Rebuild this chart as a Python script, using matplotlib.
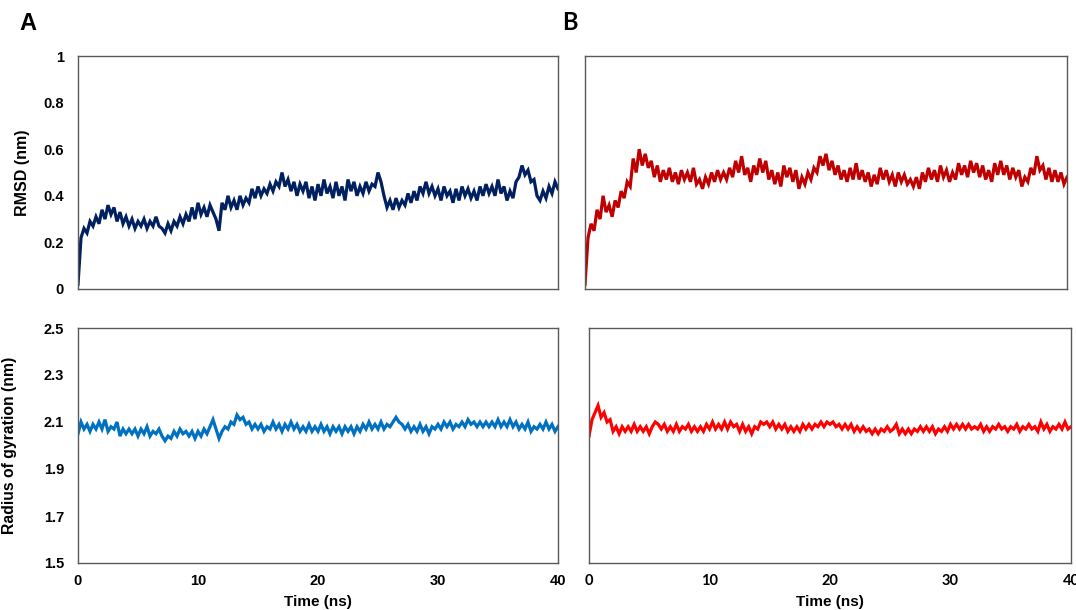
import numpy as np
import matplotlib
matplotlib.use("Agg")
from matplotlib import pyplot as plt

# values, one every 0.25 ns (0 .. 40 ns)
rmsd_a = [
    0.02, 0.22, 0.26, 0.24, 0.29, 0.27, 0.31, 0.28,
    0.34, 0.30, 0.36, 0.32, 0.35, 0.29, 0.33, 0.28,
    0.31, 0.27, 0.30, 0.26, 0.29, 0.27, 0.30, 0.26,
    0.29, 0.27, 0.31, 0.27, 0.26, 0.24, 0.28, 0.25,
    0.29, 0.27, 0.31, 0.28, 0.32, 0.29, 0.35, 0.30,
    0.37, 0.32, 0.35, 0.31, 0.36, 0.33, 0.30, 0.25,
    0.37, 0.34, 0.40, 0.35, 0.38, 0.34, 0.40, 0.36,
    0.39, 0.37, 0.43, 0.39, 0.44, 0.40, 0.43, 0.41,
    0.45, 0.42, 0.46, 0.44, 0.50, 0.44, 0.47, 0.42,
    0.46, 0.40, 0.45, 0.42, 0.46, 0.39, 0.44, 0.38,
    0.45, 0.40, 0.47, 0.41, 0.44, 0.39, 0.46, 0.40,
    0.44, 0.38, 0.47, 0.42, 0.46, 0.40, 0.44, 0.41,
    0.46, 0.42, 0.45, 0.44, 0.50, 0.46, 0.40, 0.35,
    0.38, 0.34, 0.39, 0.35, 0.38, 0.36, 0.41, 0.37,
    0.42, 0.38, 0.44, 0.41, 0.46, 0.41, 0.44, 0.40,
    0.43, 0.38, 0.44, 0.40, 0.42, 0.37, 0.43, 0.38,
    0.44, 0.40, 0.43, 0.39, 0.42, 0.38, 0.44, 0.40,
    0.45, 0.41, 0.44, 0.40, 0.47, 0.41, 0.44, 0.38,
    0.42, 0.39, 0.46, 0.48, 0.53, 0.49, 0.51, 0.46,
    0.47, 0.40, 0.38, 0.42, 0.39, 0.44, 0.41, 0.46,
    0.43,
]

rmsd_b = [
    0.02, 0.22, 0.28, 0.25, 0.34, 0.30, 0.40, 0.33,
    0.36, 0.31, 0.38, 0.35, 0.42, 0.39, 0.46, 0.44,
    0.56, 0.50, 0.60, 0.53, 0.58, 0.52, 0.55, 0.48,
    0.53, 0.46, 0.51, 0.47, 0.52, 0.46, 0.50, 0.45,
    0.51, 0.47, 0.50, 0.46, 0.52, 0.45, 0.47, 0.43,
    0.48, 0.45, 0.50, 0.46, 0.51, 0.47, 0.50, 0.47,
    0.52, 0.48, 0.55, 0.50, 0.57, 0.49, 0.52, 0.46,
    0.53, 0.49, 0.56, 0.50, 0.55, 0.47, 0.51, 0.45,
    0.50, 0.44, 0.53, 0.48, 0.52, 0.46, 0.51, 0.43,
    0.48, 0.45, 0.50, 0.47, 0.52, 0.50, 0.57, 0.53,
    0.58, 0.51, 0.55, 0.49, 0.53, 0.47, 0.51, 0.46,
    0.52, 0.47, 0.54, 0.47, 0.51, 0.46, 0.50, 0.44,
    0.49, 0.45, 0.52, 0.47, 0.51, 0.46, 0.49, 0.44,
    0.50, 0.46, 0.49, 0.45, 0.47, 0.44, 0.48, 0.43,
    0.50, 0.46, 0.52, 0.47, 0.51, 0.46, 0.53, 0.48,
    0.51, 0.46, 0.50, 0.47, 0.54, 0.49, 0.53, 0.48,
    0.55, 0.50, 0.54, 0.48, 0.53, 0.47, 0.51, 0.46,
    0.54, 0.49, 0.55, 0.49, 0.53, 0.47, 0.52, 0.48,
    0.51, 0.44, 0.48, 0.46, 0.52, 0.49, 0.57, 0.51,
    0.53, 0.47, 0.52, 0.46, 0.51, 0.46, 0.50, 0.45,
    0.48,
]

rg_a = [
    2.05, 2.10, 2.07, 2.09, 2.06, 2.09, 2.07, 2.10,
    2.07, 2.11, 2.06, 2.08, 2.07, 2.10, 2.04, 2.07,
    2.05, 2.07, 2.05, 2.07, 2.04, 2.07, 2.05, 2.08,
    2.04, 2.06, 2.05, 2.07, 2.04, 2.02, 2.04, 2.03,
    2.06, 2.04, 2.07, 2.05, 2.06, 2.04, 2.06, 2.03,
    2.06, 2.04, 2.07, 2.05, 2.08, 2.11, 2.07, 2.03,
    2.06, 2.08, 2.07, 2.10, 2.09, 2.13, 2.11, 2.12,
    2.09, 2.10, 2.07, 2.09, 2.07, 2.09, 2.06, 2.08,
    2.07, 2.10, 2.07, 2.09, 2.06, 2.09, 2.07, 2.10,
    2.07, 2.09, 2.06, 2.08, 2.06, 2.09, 2.06, 2.08,
    2.06, 2.09, 2.06, 2.08, 2.05, 2.08, 2.06, 2.08,
    2.05, 2.08, 2.06, 2.08, 2.05, 2.08, 2.06, 2.09,
    2.07, 2.10, 2.07, 2.09, 2.07, 2.10, 2.07, 2.09,
    2.08, 2.10, 2.12, 2.10, 2.09, 2.07, 2.09, 2.06,
    2.08, 2.06, 2.09, 2.06, 2.08, 2.05, 2.08, 2.07,
    2.09, 2.07, 2.10, 2.08, 2.10, 2.07, 2.09, 2.08,
    2.10, 2.08, 2.11, 2.09, 2.10, 2.08, 2.10, 2.08,
    2.10, 2.08, 2.10, 2.08, 2.11, 2.08, 2.10, 2.08,
    2.11, 2.08, 2.10, 2.07, 2.09, 2.07, 2.10, 2.06,
    2.08, 2.07, 2.09, 2.07, 2.10, 2.07, 2.09, 2.06,
    2.08,
]

rg_b = [
    2.04, 2.11, 2.14, 2.17, 2.12, 2.14, 2.10, 2.11,
    2.06, 2.08, 2.05, 2.08, 2.06, 2.08, 2.06, 2.09,
    2.06, 2.08, 2.06, 2.08, 2.05, 2.08, 2.10, 2.09,
    2.07, 2.09, 2.06, 2.08, 2.06, 2.09, 2.06, 2.08,
    2.07, 2.09, 2.06, 2.08, 2.06, 2.08, 2.06, 2.09,
    2.07, 2.10, 2.07, 2.09, 2.07, 2.10, 2.07, 2.10,
    2.08, 2.09, 2.06, 2.09, 2.06, 2.08, 2.05, 2.08,
    2.07, 2.10, 2.09, 2.10, 2.08, 2.10, 2.07, 2.09,
    2.07, 2.09, 2.06, 2.08, 2.06, 2.08, 2.06, 2.09,
    2.07, 2.09, 2.07, 2.09, 2.08, 2.10, 2.08, 2.10,
    2.09, 2.10, 2.08, 2.09, 2.07, 2.09, 2.07, 2.09,
    2.06, 2.08, 2.06, 2.08, 2.06, 2.07, 2.05, 2.07,
    2.05, 2.07, 2.06, 2.08, 2.06, 2.07, 2.09, 2.05,
    2.07, 2.05, 2.07, 2.05, 2.07, 2.06, 2.08, 2.06,
    2.08, 2.06, 2.08, 2.05, 2.07, 2.06, 2.08, 2.06,
    2.09, 2.07, 2.09, 2.07, 2.09, 2.07, 2.09, 2.07,
    2.08, 2.07, 2.09, 2.06, 2.08, 2.06, 2.08, 2.07,
    2.09, 2.07, 2.08, 2.06, 2.08, 2.07, 2.09, 2.06,
    2.08, 2.07, 2.09, 2.07, 2.08, 2.06, 2.10, 2.07,
    2.09, 2.06, 2.08, 2.07, 2.09, 2.07, 2.10, 2.07,
    2.08,
]

step = 0.25
x_ticks = [0, 10, 20, 30, 40]
rmsd_ticks = [0, 0.2, 0.4, 0.6, 0.8, 1]
rmsd_labels = ["0", "0.2", "0.4", "0.6", "0.8", "1"]
rg_ticks = [1.5, 1.7, 1.9, 2.1, 2.3, 2.5]

plt.rcParams['font.family'] = ['Liberation Sans', 'DejaVu Sans']

fig = plt.figure(figsize=(10.76, 6.10), dpi=100)
W, H = 1076.0, 610.0


def box(l, t, r, b):
    return [l / W, 1 - b / H, (r - l) / W, (b - t) / H]


ax_a1 = fig.add_axes(box(78, 56, 558, 289))
ax_a2 = fig.add_axes(box(78, 328, 558, 563))
ax_b1 = fig.add_axes(box(585, 56, 1067, 289))
ax_b2 = fig.add_axes(box(589, 328, 1071, 563))

series = [
    (ax_a1, rmsd_a, '#002060'),
    (ax_a2, rg_a, '#0070C0'),
    (ax_b1, rmsd_b, '#C00000'),
    (ax_b2, rg_b, '#FF0000'),
]

for ax, vals, col in series:
    t = np.arange(len(vals)) * step
    ax.plot(t, vals, color=col, lw=2.3, solid_joinstyle='miter')
    ax.set_xlim(0, 40)
    ax.set_xticks(x_ticks)
    ax.tick_params(length=0)
    for sp in ax.spines.values():
        sp.set_color('#595959')
        sp.set_linewidth(1.0)

for ax in (ax_a1, ax_b1):
    ax.set_ylim(0, 1)
    ax.set_yticks(rmsd_ticks)
    ax.set_xticklabels([])
for ax in (ax_a2, ax_b2):
    ax.set_ylim(1.5, 2.5)
    ax.set_yticks(rg_ticks)

ax_a1.set_yticklabels(rmsd_labels, fontsize=10.5, fontweight='bold')
ax_a1.tick_params(axis='y', pad=10)
ax_a2.set_yticklabels([f"{v:.1f}" for v in rg_ticks], fontsize=10.5, fontweight='bold')
ax_a2.tick_params(axis='y', pad=10)
ax_a2.set_xticklabels([str(v) for v in x_ticks], fontsize=10.5, fontweight='bold')
ax_a2.tick_params(axis='x', pad=8)
ax_b1.set_yticklabels([])
ax_b2.set_yticklabels([])
ax_b2.set_xticklabels([str(v) for v in x_ticks], fontsize=10.5, fontweight='bold',
                      family=['Lato', 'DejaVu Sans'])
ax_b2.tick_params(axis='x', pad=8)

ax_a1.set_ylabel('RMSD (nm)', fontsize=11.5, fontweight='bold')
ax_a1.yaxis.set_label_coords(-0.10, 0.5)
ax_a2.set_ylabel('Radius of gyration (nm)', fontsize=11.3, fontweight='bold')
ax_a2.yaxis.set_label_coords(-0.128, 0.5)

ax_a2.set_xlabel('Time (ns)', fontsize=11, fontweight='bold')
ax_a2.xaxis.set_label_coords(0.5, -0.135)
ax_b2.set_xlabel('Time (ns)', fontsize=11, fontweight='bold')
ax_b2.xaxis.set_label_coords(0.5, -0.135)

fig.text(19 / W, 1 - 24 / H, 'A', fontsize=17, fontweight='bold', va='center')
fig.text(562 / W, 1 - 22 / H, 'B', fontsize=17, fontweight='bold', va='center',
         family=['Lato', 'DejaVu Sans'])

fig.savefig('out.png', dpi=100)
